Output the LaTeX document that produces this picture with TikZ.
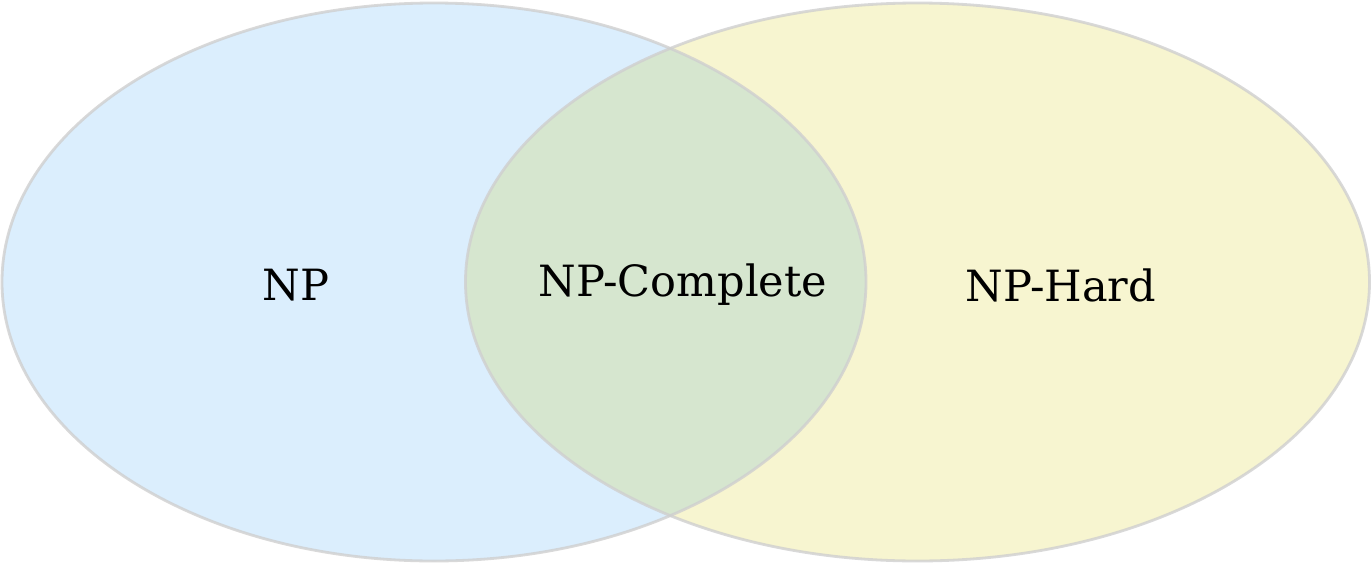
\documentclass[tikz,border=0pt]{standalone}
\usepackage{fontspec}
\setmainfont{DejaVu Serif}
\definecolor{npblue}{HTML}{DBEEFD}
\definecolor{hardyellow}{HTML}{F7F5D0}
\definecolor{compgreen}{HTML}{D6E6CF}
\definecolor{rimgray}{HTML}{CFCFCF}
\tikzset{
  rim/.style={draw=rimgray, line width=1.6pt},
  setlabel/.style={font=\fontsize{24.5}{29}\selectfont}
}
\begin{document}
\begin{tikzpicture}
  \useasboundingbox (0,0) rectangle (27.44,-11.28);
  %%%%%%%%%%%%%%%%%%%%%%%%%%%%%%%%%%%%%%%%%%%%%%%
  \fill[npblue] (8.68,-5.64) ellipse [x radius=8.64, y radius=5.58];
  \fill[hardyellow] (18.35,-5.64) ellipse [x radius=9.04, y radius=5.58];
  \begin{scope}
    \clip (8.68,-5.64) ellipse [x radius=8.64, y radius=5.58];
    \fill[compgreen] (18.35,-5.64) ellipse [x radius=9.04, y radius=5.58];
  \end{scope}
  %%%%%%%%%%%%%%%%%%%%%%%%%%%%%%%%%%%%%%%%%%%%%%%
  \draw[rim, draw opacity=.8] (8.68,-5.64) ellipse [x radius=8.64, y radius=5.58];
  \draw[rim, draw opacity=.8] (18.35,-5.64) ellipse [x radius=9.04, y radius=5.58];
  %%%%%%%%%%%%%%%%%%%%%%%%%%%%%%%%%%%%%%%%%%%%%%%
  \node[setlabel] at (5.92,-5.7)  (np)   {NP};
  \node[setlabel] at (13.66,-5.7) (npc)  {NP-Complete};
  \node[setlabel] at (21.22,-5.7) (nph)  {NP-Hard};
\end{tikzpicture}
\end{document}
